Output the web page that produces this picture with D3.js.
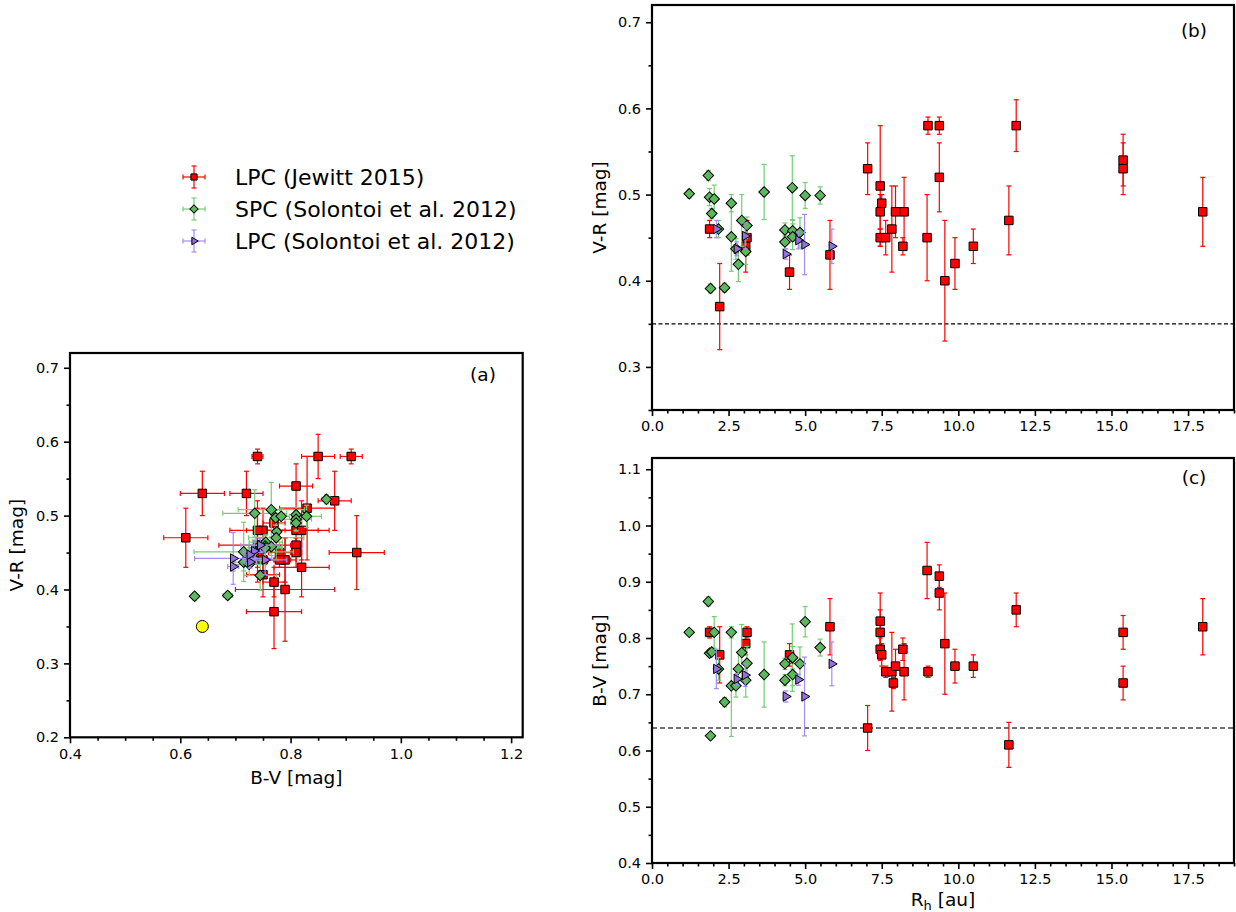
<!DOCTYPE html>
<html>
<head>
<meta charset="utf-8">
<script src="https://cdn.jsdelivr.net/npm/d3@7"></script>
<style>
  body { margin: 0; background: #fff; }
</style>
</head>
<body>
<script>
// LPC (Jewitt 2015): heliocentric distance, B-V, V-R and their 1-sigma errors
const lpcRh    = [1.88, 2.21, 3.06, 3.10, 4.49, 5.81, 7.04, 7.45, 7.45, 7.45, 7.50, 7.63, 7.83, 7.88, 7.95, 8.19, 8.23, 8.98, 9.01, 9.38, 9.38, 9.56, 9.89, 10.49, 11.65, 11.89, 15.38, 15.38, 17.98];
const lpcBV    = [0.81, 0.77, 0.79, 0.81, 0.77, 0.82, 0.64, 0.83, 0.81, 0.78, 0.77, 0.74, 0.74, 0.72, 0.75, 0.78, 0.74, 0.92, 0.74, 0.91, 0.88, 0.79, 0.75, 0.75, 0.61, 0.85, 0.81, 0.72, 0.82];
const lpcBVErr = [0.01, 0.05, 0.02, 0.01, 0.02, 0.05, 0.04, 0.05, 0.04, 0.02, 0.02, 0.01, 0.07, 0.01, 0.03, 0.02, 0.05, 0.05, 0.01, 0.02, 0.03, 0.09, 0.03, 0.02, 0.04, 0.03, 0.03, 0.03, 0.05];
const lpcVR    = [0.46, 0.37, 0.44, 0.45, 0.41, 0.43, 0.53, 0.51, 0.48, 0.45, 0.49, 0.45, 0.46, null, 0.48, 0.44, 0.48, 0.45, 0.58, 0.58, 0.52, 0.40, 0.42, 0.44, 0.47, 0.58, 0.54, 0.53, 0.48];
const lpcVRErr = [0.01, 0.05, 0.03, 0.02, 0.02, 0.04, 0.03, 0.07, 0.02, 0.01, 0.01, 0.02, 0.05, null, 0.03, 0.01, 0.04, 0.05, 0.01, 0.01, 0.04, 0.07, 0.03, 0.02, 0.04, 0.03, 0.03, 0.03, 0.04];

// SPC (Solontoi et al. 2012)
const spcRh    = [1.215, 1.84, 1.88, 1.91, 1.95, 2.03, 2.17, 2.37, 2.59, 2.59, 2.74, 2.82, 2.93, 3.06, 3.10, 3.66, 4.34, 4.34, 4.58, 4.59, 4.59, 4.83, 5.00, 5.49];
const spcBV    = [0.810, 0.865, 0.773, 0.626, 0.775, 0.810, 0.745, 0.686, 0.810, 0.715, 0.715, 0.745, 0.774, 0.725, 0.755, 0.735, 0.754, 0.725, 0.765, 0.765, 0.735, 0.754, 0.829, 0.783];
const spcBVErr = [0.005, 0.008, 0.006, 0.006, 0.006, 0.028, 0.020, 0.008, 0.010, 0.090, 0.020, 0.030, 0.050, 0.030, 0.030, 0.058, 0.010, 0.010, 0.060, 0.020, 0.020, 0.030, 0.027, 0.015];
const spcVR    = [0.501, 0.522, 0.497, 0.391, 0.478, 0.495, 0.460, 0.392, 0.490, 0.451, 0.437, 0.419, 0.470, 0.434, 0.464, 0.503, 0.459, 0.445, 0.508, 0.458, 0.451, 0.456, 0.499, 0.499];
const spcVRErr = [0.005, 0.006, 0.010, 0.005, 0.006, 0.016, 0.010, 0.005, 0.010, 0.040, 0.012, 0.020, 0.030, 0.015, 0.010, 0.032, 0.008, 0.008, 0.037, 0.012, 0.015, 0.017, 0.015, 0.010];

// LPC (Solontoi et al. 2012)
const slpcRh    = [2.10, 2.77, 3.04, 4.37, 4.78, 4.98, 5.87];
const slpcBV    = [0.745, 0.727, 0.734, 0.696, 0.726, 0.696, 0.754];
const slpcBVErr = [0.035, 0.010, 0.020, 0.010, 0.010, 0.070, 0.039];
const slpcVR    = [0.460, 0.437, 0.452, 0.431, 0.447, 0.442, 0.440];
const slpcVRErr = [0.010, 0.008, 0.015, 0.006, 0.010, 0.035, 0.020];

// solar colours
const sunBV = 0.64;
const sunVR = 0.35;

const legendLabels = ["LPC (Jewitt 2015)", "SPC (Solontoi et al. 2012)", "LPC (Solontoi et al. 2012)"];

const ticksBVa = [0.4, 0.6, 0.8, 1.0, 1.2];
const ticksVRa = [0.2, 0.3, 0.4, 0.5, 0.6, 0.7];
const ticksRh  = [0, 2.5, 5, 7.5, 10, 12.5, 15, 17.5];
const ticksVRb = [0.3, 0.4, 0.5, 0.6, 0.7];
const ticksBVc = [0.4, 0.5, 0.6, 0.7, 0.8, 0.9, 1.0, 1.1];

const font = "'DejaVu Sans', sans-serif";
const width = 1236, height = 912;

const styles = [
  { fill: "#ff0000", err: "#ff0000", shape: "square" },
  { fill: "#5cb85c", err: "#72cf72", shape: "diamond" },
  { fill: "#9370db", err: "#a48cf0", shape: "triangle" }
];

const svg = d3.select("body").append("svg")
  .attr("width", width)
  .attr("height", height)
  .style("font-family", font)
  .style("background-color", "#fff");

function markerPath(shape, big) {
  if (shape === "square") return d3.symbol(d3.symbolSquare, big ? 72 : 38)();
  if (shape === "diamond") return d3.symbol(d3.symbolSquare, big ? 56 : 34)();
  if (shape === "triangle") return d3.symbol(d3.symbolTriangle, big ? 38 : 24)();
  return d3.symbol(d3.symbolCircle, big ? 113 : 50)();
}

function markerTransform(shape, px, py) {
  if (shape === "diamond") return `translate(${px},${py}) rotate(45)`;
  if (shape === "triangle") return `translate(${px},${py}) rotate(90)`;
  return `translate(${px},${py})`;
}

function makePanel(p) {
  const x = d3.scaleLinear().domain(p.xDomain).range([p.left, p.right]);
  const y = d3.scaleLinear().domain(p.yDomain).range([p.bottom, p.top]);
  const g = svg.append("g");
  const data = g.append("g");
  const axes = g.append("g");

  const xMinor = d3.range(p.xDomain[0], p.xDomain[1] + 1e-9, p.xMinor)
    .filter(v => !p.xTicks.some(t => Math.abs(t - v) < 1e-6));
  const yMinor = d3.range(p.yMinorStart, p.yDomain[1] + 1e-9, p.yMinor)
    .filter(v => !p.yTicks.some(t => Math.abs(t - v) < 1e-6));

  const style = sel => sel
    .call(s => s.select(".domain").remove())
    .call(s => s.selectAll("line").attr("stroke", "#000").attr("stroke-width", 1.6))
    .call(s => s.selectAll("text").attr("fill", "#000").style("font-size", "14.5px").style("font-family", font));

  axes.append("g")
    .attr("transform", `translate(0,${p.bottom})`)
    .call(d3.axisBottom(x).tickValues(xMinor).tickSize(3.5).tickFormat(""))
    .call(style);
  axes.append("g")
    .attr("transform", `translate(0,${p.bottom})`)
    .call(d3.axisBottom(x).tickValues(p.xTicks).tickSize(6).tickPadding(5).tickFormat(d3.format(".1f")))
    .call(style);
  axes.append("g")
    .attr("transform", `translate(${p.left},0)`)
    .call(d3.axisLeft(y).tickValues(yMinor).tickSize(3.5).tickFormat(""))
    .call(style);
  axes.append("g")
    .attr("transform", `translate(${p.left},0)`)
    .call(d3.axisLeft(y).tickValues(p.yTicks).tickSize(6).tickPadding(5).tickFormat(d3.format(".1f")))
    .call(style);

  axes.append("rect")
    .attr("x", p.left)
    .attr("y", p.top)
    .attr("width", p.right - p.left)
    .attr("height", p.bottom - p.top)
    .attr("fill", "none")
    .attr("stroke", "#000")
    .attr("stroke-width", 2.2);

  return { x, y, data, axes };
}

function drawSeries(panel, xs, ys, xErr, yErr, st) {
  const { x, y, data } = panel;
  const cap = 2.5;
  const eg = data.append("g")
    .attr("stroke", st.err)
    .attr("stroke-width", 1.2)
    .attr("fill", "none");
  const mg = data.append("g");

  for (let i = 0; i < xs.length; i++) {
    if (xs[i] == null || ys[i] == null) continue;
    const px = x(xs[i]);
    const py = y(ys[i]);
    if (yErr && yErr[i] != null) {
      const y0 = y(ys[i] - yErr[i]);
      const y1 = y(ys[i] + yErr[i]);
      eg.append("line").attr("x1", px).attr("x2", px).attr("y1", y0).attr("y2", y1);
      eg.append("line").attr("x1", px - cap).attr("x2", px + cap).attr("y1", y0).attr("y2", y0);
      eg.append("line").attr("x1", px - cap).attr("x2", px + cap).attr("y1", y1).attr("y2", y1);
    }
    if (xErr && xErr[i] != null) {
      const x0 = x(xs[i] - xErr[i]);
      const x1 = x(xs[i] + xErr[i]);
      eg.append("line").attr("x1", x0).attr("x2", x1).attr("y1", py).attr("y2", py);
      eg.append("line").attr("x1", x0).attr("x2", x0).attr("y1", py - cap).attr("y2", py + cap);
      eg.append("line").attr("x1", x1).attr("x2", x1).attr("y1", py - cap).attr("y2", py + cap);
    }
  }
  for (let i = 0; i < xs.length; i++) {
    if (xs[i] == null || ys[i] == null) continue;
    mg.append("path")
      .attr("d", markerPath(st.shape, true))
      .attr("transform", markerTransform(st.shape, x(xs[i]), y(ys[i])))
      .attr("fill", st.fill)
      .attr("stroke", "#000")
      .attr("stroke-width", 1);
  }
}

// ---- panel (a): B-V vs V-R
const pa = makePanel({
  left: 70, right: 522.7, top: 353, bottom: 737.3,
  xDomain: [0.4, 1.221], yDomain: [0.2, 0.72],
  xTicks: ticksBVa, yTicks: ticksVRa,
  xMinor: 0.05, yMinor: 0.05, yMinorStart: 0.2
});
drawSeries(pa, lpcBV, lpcVR, lpcBVErr, lpcVRErr, styles[0]);
drawSeries(pa, spcBV, spcVR, spcBVErr, spcVRErr, styles[1]);
drawSeries(pa, slpcBV, slpcVR, slpcBVErr, slpcVRErr, styles[2]);
pa.data.append("circle")
  .attr("cx", pa.x(sunBV))
  .attr("cy", pa.y(sunVR))
  .attr("r", 6)
  .attr("fill", "#ffff00")
  .attr("stroke", "#000")
  .attr("stroke-width", 1);

// ---- panel (b): Rh vs V-R
const pb = makePanel({
  left: 652, right: 1234, top: 5, bottom: 410,
  xDomain: [0, 19], yDomain: [0.25, 0.72],
  xTicks: ticksRh, yTicks: ticksVRb,
  xMinor: 0.5, yMinor: 0.05, yMinorStart: 0.25
});
pb.data.append("line")
  .attr("x1", pb.x(0)).attr("x2", pb.x(19))
  .attr("y1", pb.y(sunVR)).attr("y2", pb.y(sunVR))
  .attr("stroke", "#000")
  .attr("stroke-width", 1.1)
  .attr("stroke-dasharray", "4,2.5");
drawSeries(pb, lpcRh, lpcVR, null, lpcVRErr, styles[0]);
drawSeries(pb, spcRh, spcVR, null, spcVRErr, styles[1]);
drawSeries(pb, slpcRh, slpcVR, null, slpcVRErr, styles[2]);

// ---- panel (c): Rh vs B-V
const pc = makePanel({
  left: 652, right: 1234, top: 458, bottom: 863,
  xDomain: [0, 19], yDomain: [0.4, 1.12],
  xTicks: ticksRh, yTicks: ticksBVc,
  xMinor: 0.5, yMinor: 0.05, yMinorStart: 0.4
});
pc.data.append("line")
  .attr("x1", pc.x(0)).attr("x2", pc.x(19))
  .attr("y1", pc.y(sunBV)).attr("y2", pc.y(sunBV))
  .attr("stroke", "#444")
  .attr("stroke-width", 1.3)
  .attr("stroke-dasharray", "5,3");
drawSeries(pc, lpcRh, lpcBV, null, lpcBVErr, styles[0]);
drawSeries(pc, spcRh, spcBV, null, spcBVErr, styles[1]);
drawSeries(pc, slpcRh, slpcBV, null, slpcBVErr, styles[2]);

// ---- axis labels and panel letters
const labelSize = "18.5px";

function label(txt, xPos, yPos, rotate) {
  const t = svg.append("text")
    .attr("text-anchor", "middle")
    .attr("fill", "#000")
    .style("font-size", labelSize)
    .text(txt);
  if (rotate) t.attr("transform", `translate(${xPos},${yPos}) rotate(-90)`);
  else t.attr("x", xPos).attr("y", yPos);
  return t;
}

label("B-V [mag]", (70 + 522.7) / 2, 784);
label("V-R [mag]", 23, (353 + 737.3) / 2, true);
label("V-R [mag]", 606, (5 + 410) / 2, true);
label("B-V [mag]", 606, (458 + 863) / 2, true);

const rhLabel = svg.append("text")
  .attr("x", (652 + 1234) / 2)
  .attr("y", 906)
  .attr("text-anchor", "middle")
  .attr("fill", "#000")
  .style("font-size", labelSize);
rhLabel.append("tspan").text("R");
rhLabel.append("tspan").attr("dy", 4).style("font-size", "13px").text("h");
rhLabel.append("tspan").attr("dy", -4).text(" [au]");

label("(a)", 483, 381);
label("(b)", 1194, 37);
label("(c)", 1194, 484);

// ---- legend
const legend = svg.append("g");
const legendRowY = [177, 209, 241];
legendLabels.forEach((name, i) => {
  const st = styles[i];
  const cx = 194, cy = legendRowY[i];
  const lg = legend.append("g").attr("stroke", st.err).attr("stroke-width", 1.2);
  lg.append("line").attr("x1", cx - 11).attr("x2", cx + 11).attr("y1", cy).attr("y2", cy);
  lg.append("line").attr("x1", cx).attr("x2", cx).attr("y1", cy - 11).attr("y2", cy + 11);
  lg.append("line").attr("x1", cx - 11).attr("x2", cx - 11).attr("y1", cy - 2.5).attr("y2", cy + 2.5);
  lg.append("line").attr("x1", cx + 11).attr("x2", cx + 11).attr("y1", cy - 2.5).attr("y2", cy + 2.5);
  lg.append("line").attr("x1", cx - 2.5).attr("x2", cx + 2.5).attr("y1", cy - 11).attr("y2", cy - 11);
  lg.append("line").attr("x1", cx - 2.5).attr("x2", cx + 2.5).attr("y1", cy + 11).attr("y2", cy + 11);
  legend.append("path")
    .attr("d", markerPath(st.shape, false))
    .attr("transform", markerTransform(st.shape, cx, cy))
    .attr("fill", st.fill)
    .attr("stroke", "#000")
    .attr("stroke-width", 1);
  legend.append("text")
    .attr("x", 235)
    .attr("y", cy + 7.5)
    .attr("fill", "#000")
    .style("font-size", "22px")
    .text(name);
});
</script>
</body>
</html>
